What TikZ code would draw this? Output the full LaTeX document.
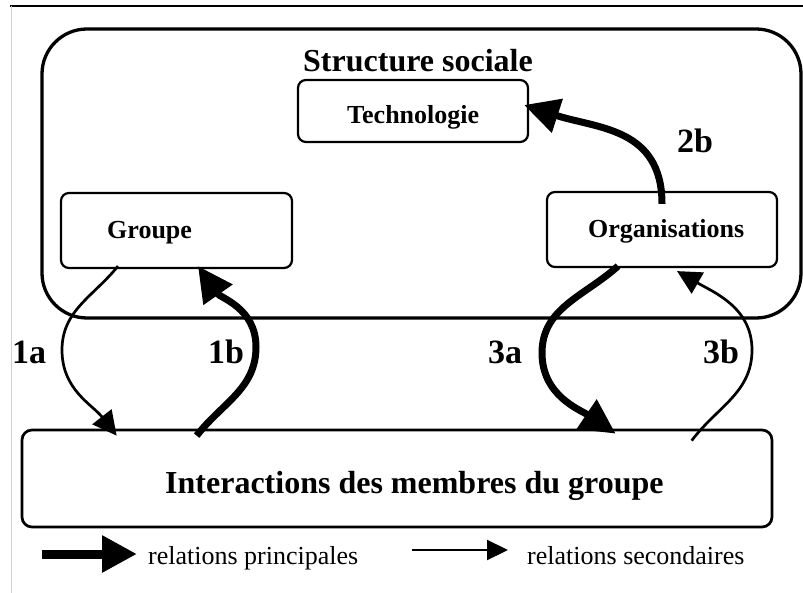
\documentclass[tikz,border=0pt]{standalone}
\usepackage{fontspec}
\setmainfont{Liberation Serif}
\usetikzlibrary{arrows.meta}
\begin{document}
\begin{tikzpicture}[x=1pt,y=1pt,
  box/.style={draw, line width=2.2pt, rounded corners=8pt, inner sep=0pt},
  bigbox/.style={draw, line width=3.3pt, rounded corners=45pt, inner sep=0pt},
  titletext/.style={inner sep=0pt, font=\fontsize{32}{38}\selectfont\bfseries},
  boxtext/.style={inner sep=0pt, font=\fontsize{26}{31}\selectfont\bfseries},
  lbl/.style={inner sep=0pt, font=\fontsize{34}{40}\selectfont\bfseries},
  legendtext/.style={inner sep=0pt, font=\fontsize{26}{31}\selectfont},
  mainrel/.style={line width=7pt, -{Triangle[length=35pt,width=34pt]}},
  secrel/.style={line width=2.7pt, -{Triangle[length=24pt,width=24pt]}}]
\useasboundingbox (0,0) rectangle (803,-593);
% frame lines
\draw[line width=1.5pt] (10,-6) -- (803,-6);
\draw[black!18, line width=1pt] (11,-6) -- (11,-593);
% boxes
\node[bigbox, minimum width=759pt, minimum height=289pt] (ss) at (421.5,-173.5) {};
\node[box, minimum width=230pt, minimum height=62pt] (tech) at (413,-111) {};
\node[box, minimum width=231pt, minimum height=75pt] (grp) at (176.5,-230.5) {};
\node[box, minimum width=230pt, minimum height=75pt] (org) at (662,-229.5) {};
\node[box, line width=2.7pt, rounded corners=10pt, minimum width=750pt, minimum height=97pt] (int) at (397,-478.5) {};
% texts
\node[titletext, anchor=base west] (sst) at (303,-72) {Structure sociale};
\node[boxtext, anchor=base west] (techt) at (347,-124) {Technologie};
\node[boxtext, anchor=base west] (grpt) at (107,-239) {Groupe};
\node[boxtext, anchor=base west] (orgt) at (588,-238) {Organisations};
\node[titletext, anchor=base west] (intt) at (165,-493) {Interactions des membres du groupe};
\node[lbl, anchor=base west] (l1a) at (12,-363) {1a};
\node[lbl, anchor=base west] (l1b) at (208,-363) {1b};
\node[lbl, anchor=base west] (l3a) at (488,-363) {3a};
\node[lbl, anchor=base west] (l3b) at (703,-363) {3b};
\node[lbl, anchor=base west] (l2b) at (677,-153) {2b};
% connectors
\draw[secrel] ([xshift=-58.5pt,yshift=3pt]grp.south) to[out=231,in=90] (62,-350) to[out=270,in=128] ([xshift=96pt,yshift=-7pt]int.north west);
\draw[mainrel] ([xshift=176pt,yshift=-7pt]int.north west) to[out=52,in=270] (256,-347) to[out=90,in=305] ([xshift=21.5pt,yshift=3pt]grp.south);
\draw[mainrel] ([xshift=-44pt,yshift=2pt]org.south) to[out=222,in=90] (542,-353) to[out=270,in=146] ([xshift=595pt,yshift=-5pt]int.north west);
\draw[secrel] ([xshift=671pt,yshift=-12pt]int.north west) to[out=53,in=270] (752,-350) to[out=90,in=330] ([xshift=15pt,yshift=-3pt]org.south);
\draw[mainrel] ([yshift=-13pt]org.north) to[out=90,in=342,looseness=1.15] ([xshift=-5pt,yshift=6pt]tech.east);
% legend
\node[legendtext, anchor=base west] (lp) at (148,-564) {relations principales};
\node[legendtext, anchor=base west] (ls) at (527,-564) {relations secondaires};
\draw[line width=9pt, -{Triangle[length=35pt,width=35pt]}] ([xshift=-106pt,yshift=10pt]lp.base west) -- ([xshift=-11pt,yshift=10pt]lp.base west);
\draw[line width=2.2pt, -{Triangle[length=21pt,width=20pt]}] ([xshift=-115pt,yshift=14pt]ls.base west) -- ([xshift=-19pt,yshift=14pt]ls.base west);
\end{tikzpicture}
\end{document}
